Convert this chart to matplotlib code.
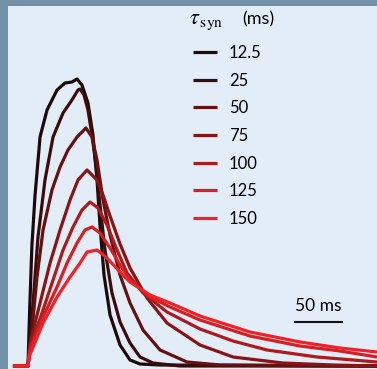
import matplotlib
matplotlib.use("Agg")
import matplotlib.pyplot as plt

plt.rcParams['mathtext.fontset'] = 'stix'

# synaptic time constants (ms) and their colours
taus = ["12.5", "25", "50", "75", "100", "125", "150"]
colors = ["#1e0909", "#3c0c0c", "#641111", "#881515", "#ad1a1b", "#d41f23", "#ee2228"]

# time (ms) and firing rate (a.u.) for each curve
t_125 = [-15.5, 0, 1.5, 4.0, 7.2, 12.4, 19.6, 29.9, 38.1, 45.3, 50.5, 55.6, 61.8, 66.9, 71.1,
         74.2, 78.3, 84.5, 94.8, 105.1, 115.4, 136.0, 359.5]
r_125 = [0, 0, 50, 120, 170, 229, 256, 276, 283, 284, 287, 281, 263, 231, 186,
         140, 91, 51, 21, 6, 2, 1, 0]

t_25 = [-15.5, 0, 5.2, 10.3, 17.5, 25.8, 36.1, 45.3, 51.5, 53.6, 57.7, 61.8, 65.9, 70.0,
        74.2, 79.3, 86.5, 94.8, 105.1, 115.4, 128.8, 156.6, 359.5]
r_25 = [0, 0, 63, 129, 186, 229, 253, 266, 276, 277, 271, 256, 231, 201,
        161, 116, 73, 44, 23, 9, 3, 0, 0]

t_50 = [-15.5, 0, 4.1, 9.3, 15.5, 24.7, 33.0, 41.2, 50.5, 59.7, 65.9, 71.1, 77.3, 84.5,
        94.8, 105.1, 118.5, 136.0, 163.8, 197.8, 359.5]
r_50 = [0, 0, 36, 89, 136, 176, 199, 216, 229, 238, 229, 206, 166, 131,
        91, 63, 36, 16, 4, 1, 0]

t_75 = [-15.5, 0, 2.1, 12.4, 22.7, 33.0, 43.3, 51.5, 60.8, 71.1, 77.3, 84.5, 94.8, 105.1,
        122.6, 143.2, 177.2, 211.2, 262.7, 314.2, 359.5]
r_75 = [0, 0, 23, 63, 103, 136, 166, 186, 196, 186, 171, 150, 122, 98,
        68, 43, 21, 9, 3, 1, 0]

t_100 = [-15.5, 0, 2.1, 15.5, 25.8, 36.1, 46.4, 55.6, 63.9, 72.1, 81.4, 91.7, 102.0, 118.5,
         143.2, 177.2, 211.2, 246.2, 297.7, 359.5]
r_100 = [0, 0, 19, 56, 86, 116, 139, 156, 164, 158, 141, 116, 93, 73,
         54, 37, 25, 16, 9, 4]

t_125b = [-15.5, 0, 2.1, 15.5, 29.9, 40.2, 50.5, 58.7, 65.9, 74.2, 84.5, 94.8, 105.1, 125.7,
          146.3, 177.2, 228.7, 280.2, 321.4, 359.5]
r_125b = [0, 0, 16, 49, 79, 103, 123, 136, 139, 133, 118, 101, 86, 69,
          59, 46, 30, 20, 15, 9]

t_150 = [-15.5, 0, 1.0, 15.5, 29.9, 43.3, 53.6, 60.8, 71.1, 81.4, 94.8, 105.1, 125.7,
         146.3, 177.2, 228.7, 280.2, 321.4, 359.5]
r_150 = [0, 0, 9, 43, 69, 89, 103, 114, 116, 108, 94, 84, 71,
         63, 50, 34, 24, 18, 14]

times = [t_125, t_25, t_50, t_75, t_100, t_125b, t_150]
rates = [r_125, r_25, r_50, r_75, r_100, r_125b, r_150]

scale_ms = 50
scale_start = 274

fig = plt.figure(figsize=(3.77, 3.69), dpi=100, facecolor="#7291a9")
ax = fig.add_axes([8 / 377, 0, 369 / 377, 363 / 369])
ax.set_facecolor("#e3edf8")
for s in ax.spines.values():
    s.set_visible(False)
ax.set_xticks([])
ax.set_yticks([])
ax.set_xlim(-20.6, 359.5)
ax.set_ylim(-3, 360)

for t, r, c, lab in zip(times, rates, colors, taus):
    ax.plot(t, r, color=c, lw=2.3, label=lab, solid_joinstyle='round', solid_capstyle='butt')

leg = ax.legend(loc="upper left", bbox_to_anchor=(0.501, 0.893), frameon=False,
                borderpad=0, borderaxespad=0, handlelength=1.45, handletextpad=0.7,
                labelspacing=0.70, prop={"family": "Lato", "size": 12})

ax.text(0.490, 0.955, r"$\tau_{\mathrm{\,syn}}$", transform=ax.transAxes,
        fontsize=16, va="center", ha="left")
ax.text(0.634, 0.963, "(ms)", transform=ax.transAxes, family="Lato",
        fontsize=13, va="center", ha="left")

# scale bar
ax.plot([scale_start, scale_start + scale_ms], [44, 44], color="#111111", lw=1.5,
        solid_capstyle="butt")
ax.text(scale_start + scale_ms / 2, 52, f"{scale_ms} ms", family="Lato", fontsize=12.5,
        ha="center", va="bottom")

fig.savefig("out.png", dpi=100, facecolor=fig.get_facecolor())
